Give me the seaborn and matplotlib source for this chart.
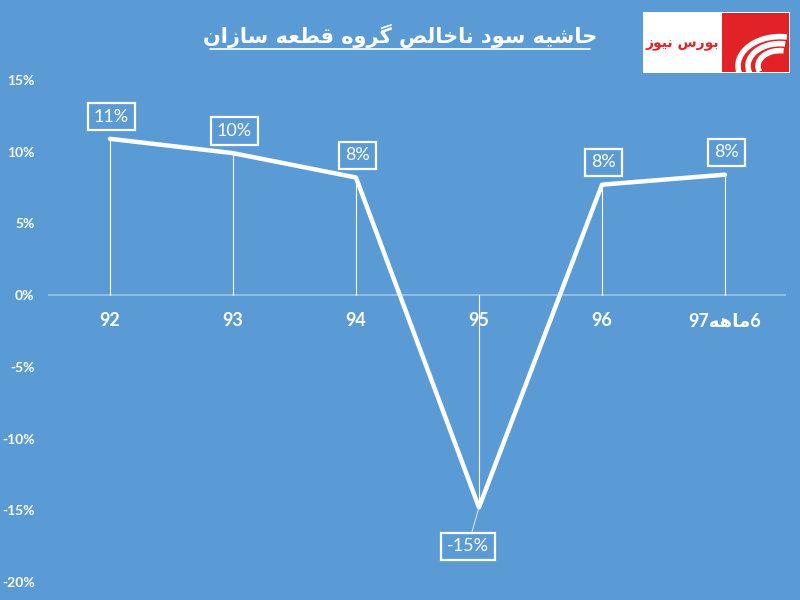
import numpy as np
import pandas as pd
import matplotlib
matplotlib.use("Agg")
import matplotlib.pyplot as plt
import seaborn as sns
from matplotlib.patches import Rectangle, Arc

# data
periods = ["92", "93", "94", "95", "96", "97-6m"]
margin = [10.9, 9.9, 8.2, -14.8, 7.7, 8.4]
labels = ["11%", "10%", "8%", "-15%", "8%", "8%"]
y_ticks = [-20, -15, -10, -5, 0, 5, 10, 15]

title_fa = "حاشیه سود ناخالص گروه قطعه سازان"
logo_fa = "بورس نیوز"
half_year_fa = "ماهه"

BG = "#5B9BD5"
RED = "#E32228"

# --- tiny arabic/persian shaper (matplotlib does no shaping) ---
FORMS = {
    "ا": ("\uFE8D", "\uFE8E", None, None),
    "ب": ("\uFE8F", "\uFE90", "\uFE91", "\uFE92"),
    "ح": ("\uFEA1", "\uFEA2", "\uFEA3", "\uFEA4"),
    "خ": ("\uFEA5", "\uFEA6", "\uFEA7", "\uFEA8"),
    "د": ("\uFEA9", "\uFEAA", None, None),
    "ر": ("\uFEAD", "\uFEAE", None, None),
    "ز": ("\uFEAF", "\uFEB0", None, None),
    "س": ("\uFEB1", "\uFEB2", "\uFEB3", "\uFEB4"),
    "ش": ("\uFEB5", "\uFEB6", "\uFEB7", "\uFEB8"),
    "ص": ("\uFEB9", "\uFEBA", "\uFEBB", "\uFEBC"),
    "ط": ("\uFEC1", "\uFEC2", "\uFEC3", "\uFEC4"),
    "ع": ("\uFEC9", "\uFECA", "\uFECB", "\uFECC"),
    "ق": ("\uFED5", "\uFED6", "\uFED7", "\uFED8"),
    "ل": ("\uFEDD", "\uFEDE", "\uFEDF", "\uFEE0"),
    "م": ("\uFEE1", "\uFEE2", "\uFEE3", "\uFEE4"),
    "ن": ("\uFEE5", "\uFEE6", "\uFEE7", "\uFEE8"),
    "ه": ("\uFEE9", "\uFEEA", "\uFEEB", "\uFEEC"),
    "و": ("\uFEED", "\uFEEE", None, None),
    "ی": ("\uFBFC", "\uFBFD", "\uFBFE", "\uFBFF"),
    "گ": ("\uFB92", "\uFB93", "\uFB94", "\uFB95"),
}


def shape(text):
    out = []
    for word in text.split(" "):
        chars = list(word)
        res = []
        for i, c in enumerate(chars):
            f = FORMS.get(c)
            if f is None:
                res.append(c)
                continue
            prev = FORMS.get(chars[i - 1]) if i > 0 else None
            nxt = FORMS.get(chars[i + 1]) if i + 1 < len(chars) else None
            join_prev = prev is not None and prev[2] is not None
            join_next = nxt is not None and f[2] is not None
            if join_prev and join_next:
                res.append(f[3])
            elif join_prev:
                res.append(f[1])
            elif join_next:
                res.append(f[2])
            else:
                res.append(f[0])
        out.append("".join(res[::-1]))
    return " ".join(out[::-1])


sns.set_theme(style="white")
plt.rcParams["font.family"] = ["Lato", "DejaVu Sans"]

df = pd.DataFrame({"period": periods, "margin": margin})

fig = plt.figure(figsize=(8, 6), dpi=100, facecolor=BG)
ax = fig.add_axes([0.0606, 0.03, 0.9225, 0.8367], facecolor=BG)

xs = np.arange(len(periods))
# drop lines to the zero axis
for x, v in zip(xs, margin):
    ax.plot([x, x], [0, v], color="white", lw=0.8, zorder=2)
ax.axhline(0, color="#9DC3E6", lw=1.2, zorder=1)

sns.lineplot(x=xs, y=margin, ax=ax, color="white", lw=3.2, zorder=3)

# boxed data labels
box = dict(boxstyle="square,pad=0.32", fc="none", ec="white", lw=1.6)
for x, v, lab in zip(xs, margin, labels):
    if v >= 0:
        ax.annotate(lab, (x, v), xytext=(1, 16), textcoords="offset points",
                    ha="center", va="center", color="white", fontsize=13,
                    bbox=box)
    else:
        ax.annotate(lab, (x, v), xytext=(-8, -28), textcoords="offset points",
                    ha="center", va="center", color="white", fontsize=13,
                    bbox=box,
                    arrowprops=dict(arrowstyle="-", color="#DDEBF7", lw=0.7,
                                    shrinkA=0, shrinkB=0))

ax.set_xlim(-0.5, len(periods) - 0.5)
ax.set_ylim(-20, 15)
ax.set_yticks(y_ticks)
ax.set_yticklabels([f"{t}%" for t in y_ticks], color="white", fontsize=10,
                   fontweight="bold")
ax.set_xticks([])
for sp in ax.spines.values():
    sp.set_visible(False)
ax.tick_params(axis="y", length=0, pad=10)

# category labels sit just under the zero line
xt_labels = periods[:-1] + ["97" + shape(half_year_fa) + "6"]
for x, t in zip(xs, xt_labels):
    ax.text(x, -1.2, t, ha="center", va="top", color="white", fontsize=13,
            fontweight="bold", fontfamily=["Lato", "DejaVu Sans"])

# title with underline
fig.text(0.5, 0.94, shape(title_fa), ha="center", va="center", color="white",
         fontsize=15, fontweight="bold", fontfamily="DejaVu Sans")
fig.add_artist(plt.Line2D([210 / 800, 590 / 800], [1 - 49 / 600, 1 - 49 / 600],
                          color="white", lw=1.2))

# logo block
fig.add_artist(Rectangle((643 / 800, 1 - 73 / 600), 147 / 800, 61 / 600,
                         transform=fig.transFigure, fc="white", ec="none"))
red_sq = Rectangle((722 / 800, 1 - 72 / 600), 67 / 800, 59 / 600,
                   transform=fig.transFigure, fc=RED, ec="none")
fig.add_artist(red_sq)
for r in [42, 32, 22]:
    arc = Arc((780 / 800, 1 - 66 / 600), 2 * r / 800, 1.4 * r / 600,
              theta1=80, theta2=200, transform=fig.transFigure,
              color="white", lw=4)
    arc.set_clip_path(red_sq)
    fig.add_artist(arc)
fig.text(682 / 800, 1 - 44 / 600, shape(logo_fa), ha="center", va="center",
         color=RED, fontsize=10, fontweight="bold", fontfamily="DejaVu Sans",
         zorder=5)

fig.savefig("out.png", dpi=100, facecolor=BG)
